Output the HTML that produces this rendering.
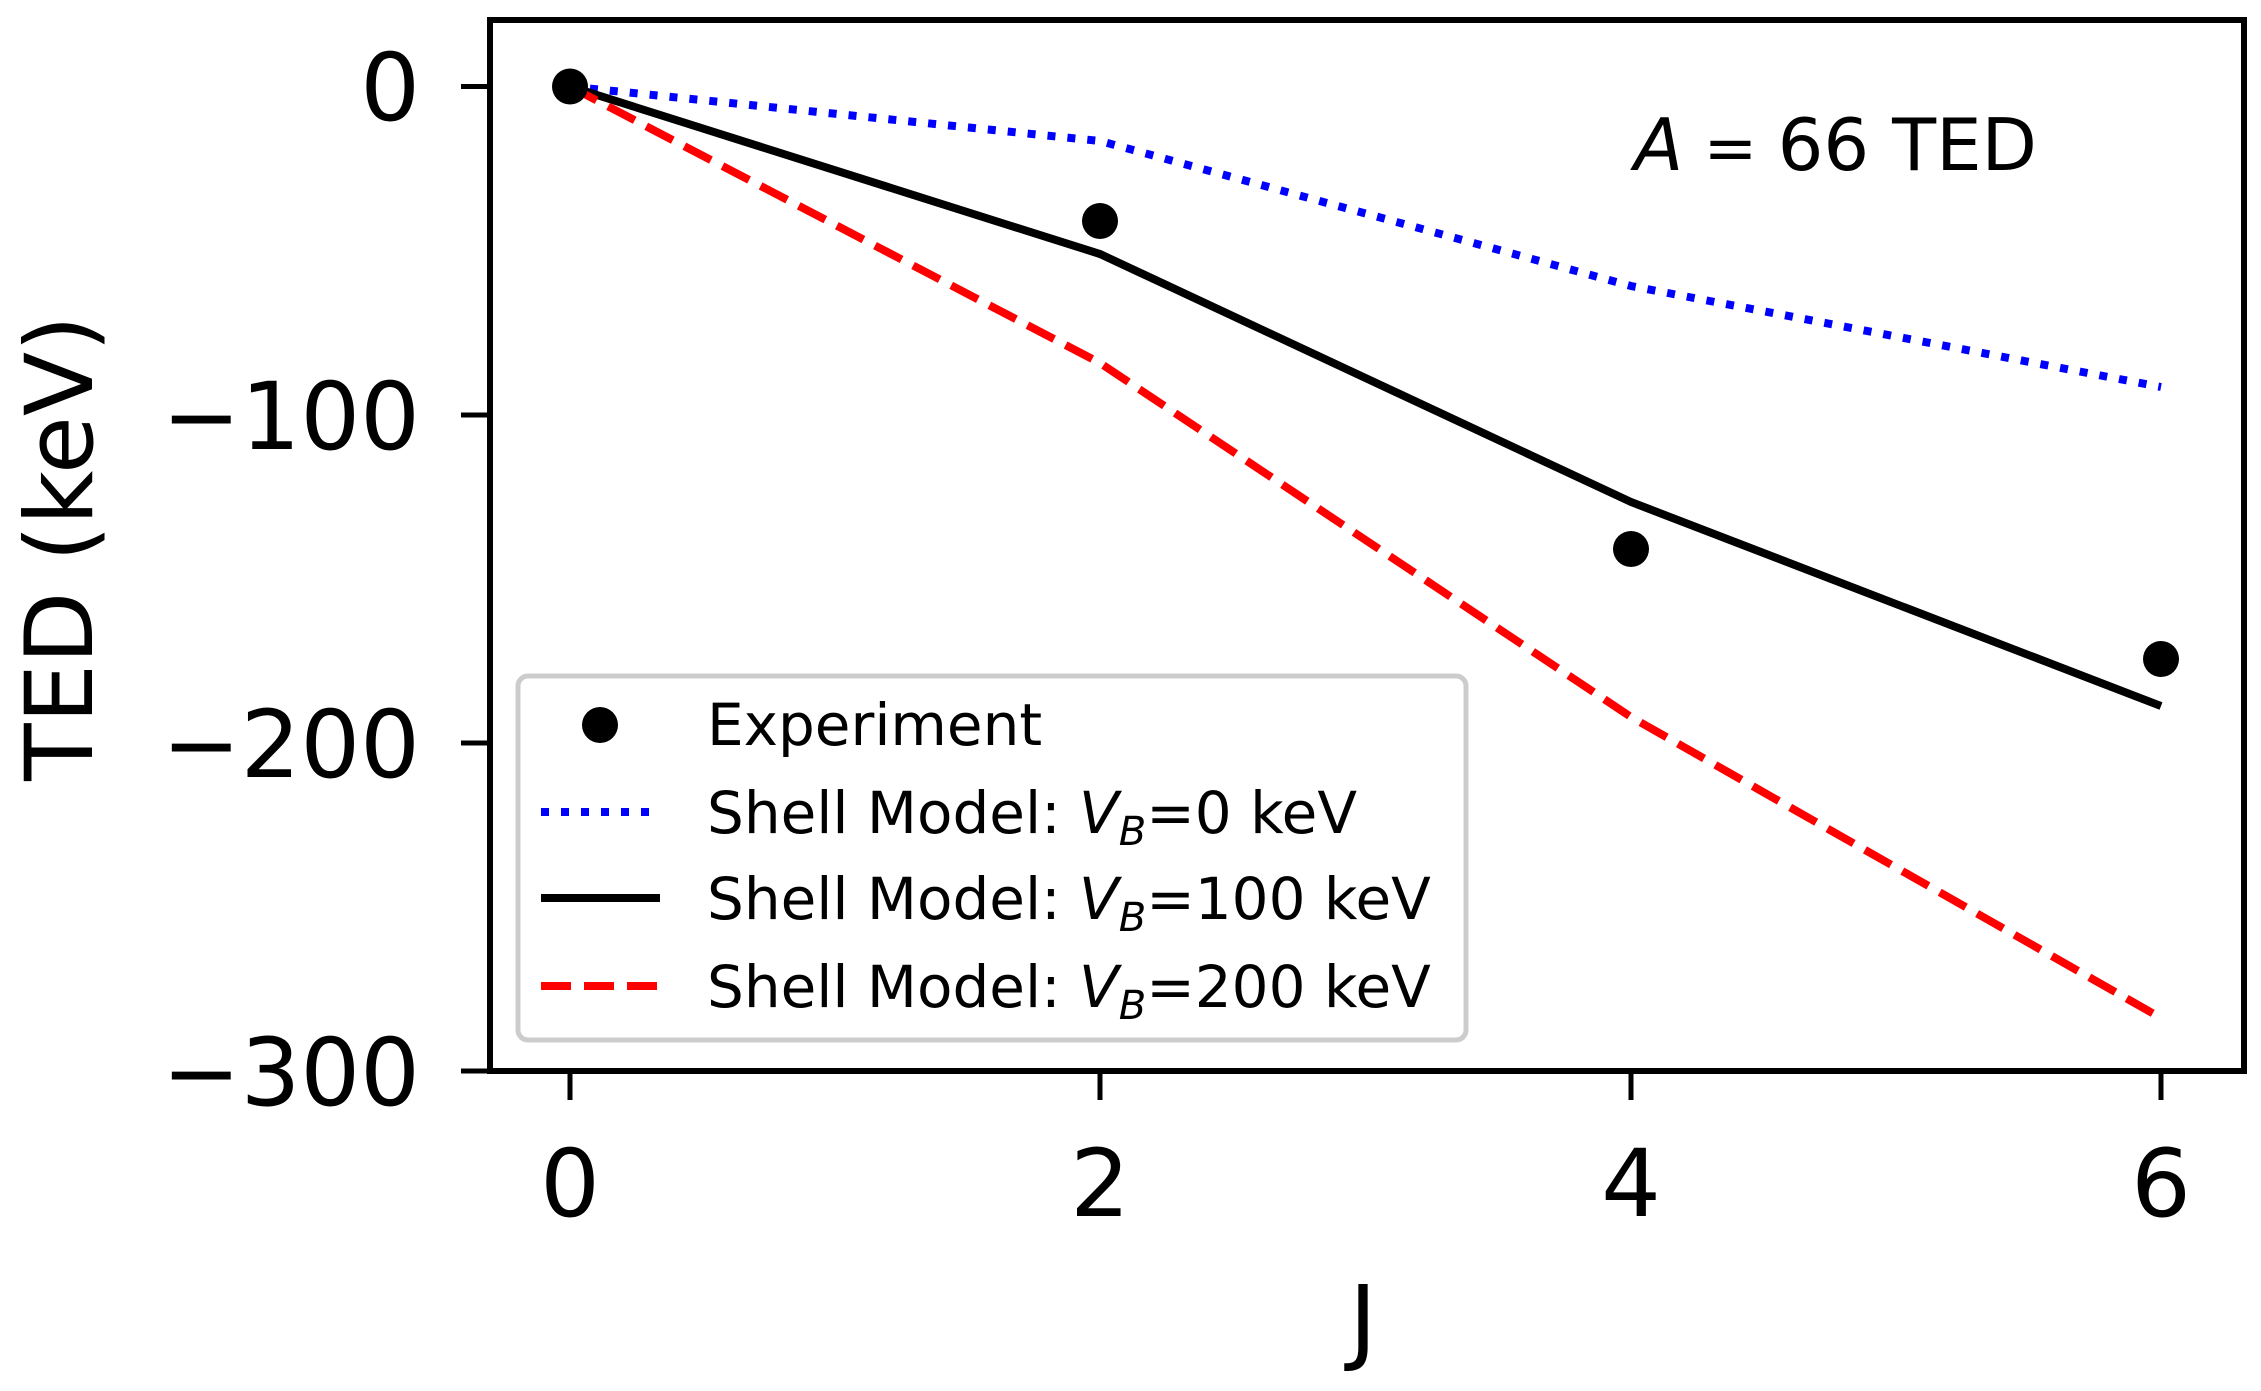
<!DOCTYPE html>
<html><head><meta charset="utf-8"><style>html,body{margin:0;padding:0;background:#fff}</style></head>
<body>
<svg width="2261" height="1386" viewBox="0 0 2261 1386" xmlns="http://www.w3.org/2000/svg" font-family="'DejaVu Sans','Liberation Sans',sans-serif">
<rect width="2261" height="1386" fill="#fff"/>
<polyline points="570,86.5 1100,141 1631,286 2161,387" fill="none" stroke="#0000ff" stroke-width="8" stroke-dasharray="8,12"/>
<polyline points="570,86.5 1100,254 1631,502 2161,706" fill="none" stroke="#000" stroke-width="8"/>
<polyline points="570,86.5 1100,363 1631,717 2161,1018" fill="none" stroke="#ff0000" stroke-width="8" stroke-dasharray="30,13"/>
<g fill="#000">
<circle cx="570" cy="86.5" r="18"/><circle cx="1100" cy="221" r="18"/><circle cx="1631" cy="549" r="18"/><circle cx="2161" cy="659" r="18"/>
</g>
<rect x="490" y="20" width="1754" height="1051" fill="none" stroke="#000" stroke-width="6"/>
<g stroke="#000" stroke-width="5">
<line x1="461" y1="86.5" x2="490" y2="86.5"/><line x1="461" y1="415" x2="490" y2="415"/><line x1="461" y1="743" x2="490" y2="743"/><line x1="461" y1="1071" x2="490" y2="1071"/>
<line x1="570" y1="1071" x2="570" y2="1100"/><line x1="1100" y1="1071" x2="1100" y2="1100"/><line x1="1631" y1="1071" x2="1631" y2="1100"/><line x1="2161" y1="1071" x2="2161" y2="1100"/>
</g>
<g font-size="94" fill="#000" text-anchor="end">
<text x="420" y="120">0</text><text x="420" y="449">−100</text><text x="420" y="777">−200</text><text x="420" y="1105">−300</text>
</g>
<g font-size="94" fill="#000" text-anchor="middle">
<text x="570" y="1216">0</text><text x="1100" y="1216">2</text><text x="1631" y="1216">4</text><text x="2161" y="1216">6</text>
<text x="1363" y="1352">J</text>
<text transform="translate(92,548) rotate(-90)">TED (keV)</text>
</g>
<text x="1634" y="170" font-size="72" fill="#000"><tspan font-style="italic">A</tspan><tspan font-size="64"> = </tspan>66 TED</text>
<rect x="518" y="676" width="948" height="364" rx="10" fill="#fff" fill-opacity="0.85" stroke="#ccc" stroke-width="5"/>
<circle cx="600" cy="725" r="18" fill="#000"/>
<line x1="541" y1="812" x2="660" y2="812" stroke="#0000ff" stroke-width="8" stroke-dasharray="8,12"/>
<line x1="541" y1="898" x2="660" y2="898" stroke="#000" stroke-width="8"/>
<line x1="541" y1="986" x2="660" y2="986" stroke="#ff0000" stroke-width="8" stroke-dasharray="30,13"/>
<g font-size="58" fill="#000">
<text x="707" y="745">Experiment</text>
<text x="707" y="833">Shell Model: <tspan font-style="italic">V</tspan><tspan font-style="italic" font-size="40" dy="12">B</tspan><tspan dy="-12">=0 keV</tspan></text>
<text x="707" y="919">Shell Model: <tspan font-style="italic">V</tspan><tspan font-style="italic" font-size="40" dy="12">B</tspan><tspan dy="-12">=100 keV</tspan></text>
<text x="707" y="1007">Shell Model: <tspan font-style="italic">V</tspan><tspan font-style="italic" font-size="40" dy="12">B</tspan><tspan dy="-12">=200 keV</tspan></text>
</g>
</svg>
</body></html>
